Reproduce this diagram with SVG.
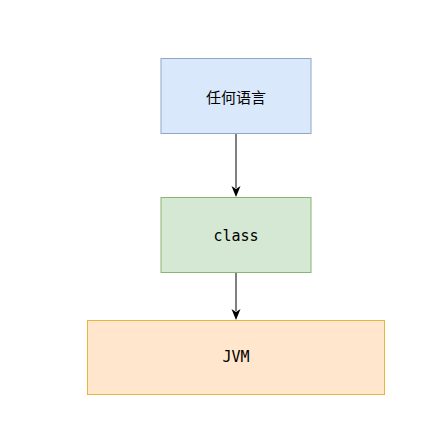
<svg xmlns="http://www.w3.org/2000/svg" width="448" height="427" viewBox="0 0 448 427">
<style>
.t{font-size:15px;text-anchor:middle;dominant-baseline:central;fill:#000}
.cjk{font-family:"Noto Sans CJK SC","Noto Sans",sans-serif}
.mono{font-family:"DejaVu Sans Mono","Liberation Mono",monospace}
.e{fill:none;stroke:#000;stroke-width:1}
</style>
<rect width="448" height="427" fill="#fff"/>
<g id="connectors">
<path class="e" d="M236,133 V188"/>
<path d="M231.5,186 L236,197 L240.5,186 L236,189 Z" fill="#000"/>
<path class="e" d="M236,272 V311"/>
<path d="M231.5,309 L236,320 L240.5,309 L236,312 Z" fill="#000"/>
</g>
<g id="lang">
<rect x="161" y="58.5" width="150" height="75" fill="#dae8fc" stroke="#8fa8c8"/>
<text class="t cjk" x="236" y="96">任何语言</text>
</g>
<g id="class">
<rect x="161" y="197.5" width="150" height="75" fill="#d5e8d4" stroke="#89b670"/>
<text class="t mono" x="236" y="236">class</text>
</g>
<g id="jvm">
<rect x="87.5" y="320.5" width="297" height="74" fill="#ffe6cc" stroke="#e6b53c"/>
<text class="t mono" x="236" y="357">JVM</text>
</g>
</svg>
